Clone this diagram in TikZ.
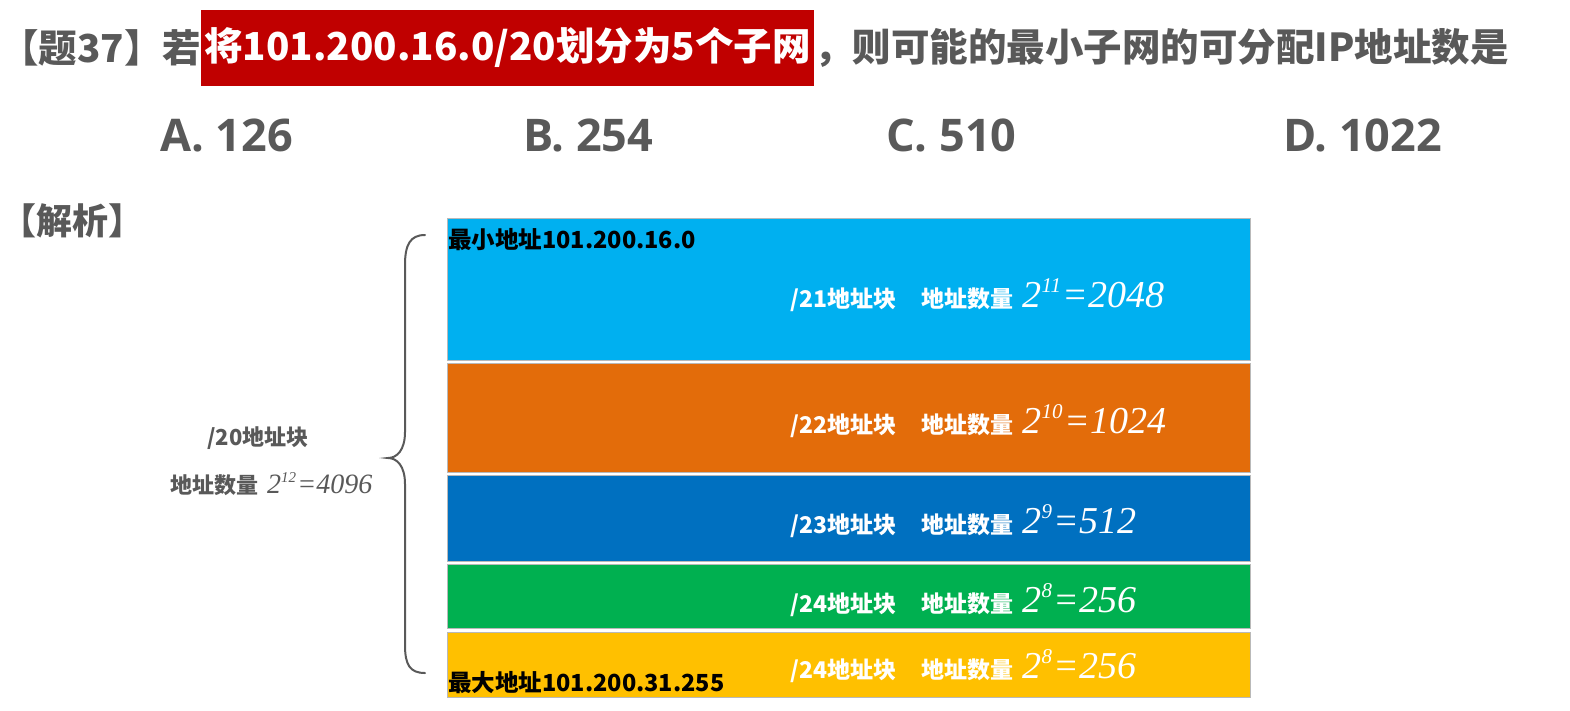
\documentclass[tikz,border=0pt]{standalone}
\usepackage{fontspec}
\setmainfont{Noto Sans CJK SC}
\newfontfamily\optfont{Open Sans}
\newfontfamily\tmsfont{Liberation Serif}
\definecolor{txtgray}{HTML}{595959}
\definecolor{hired}{HTML}{C00000}
\definecolor{cblue}{HTML}{00B0F0}
\definecolor{corange}{HTML}{E36C0A}
\definecolor{cdblue}{HTML}{0070C0}
\definecolor{cgreen}{HTML}{00B050}
\definecolor{cyellow}{HTML}{FFC000}
\newcommand\pwr[5]{{\tmsfont\mdseries\itshape\fontsize{#4pt}{#4pt}\selectfont #1\raisebox{0.4em}{\fontsize{#5pt}{#5pt}\selectfont #2}\hspace{0.05em}#3}}
\tikzset{
  title/.style={font=\fontsize{38.5pt}{40pt}\selectfont\bfseries, text=txtgray, inner sep=0pt},
  opt/.style={font=\optfont\fontsize{45pt}{47pt}\selectfont\bfseries, text=txtgray, inner sep=0pt, anchor=west},
  blk/.style={draw=gray!55, line width=0.8pt, anchor=north west, minimum width=803pt, inner sep=0pt},
  wlab/.style={font=\fontsize{23pt}{25pt}\selectfont\bfseries, text=white, inner sep=0pt, anchor=west},
  klab/.style={font=\fontsize{23.5pt}{25pt}\selectfont\bfseries, text=black, inner sep=0pt, anchor=west},
  glab/.style={font=\fontsize{22pt}{24pt}\selectfont\bfseries, text=txtgray, inner sep=0pt},
}
\begin{document}
\begin{tikzpicture}[x=1pt, y=-1pt]
\useasboundingbox[fill=white] (0,0) rectangle (1570,710);
% title
\node[title, anchor=west] (t1) at (0,48) {【题37】若};
\node[title, anchor=west, fill=hired, text=white, minimum height=76pt, inner xsep=3pt] (t2) at (t1.east) {将101.200.16.0/20划分为5个子网\hspace{6pt}};
\node[title, anchor=west] (t3) at (t2.east) {，则可能的最小子网的可分配IP地址数是};
% options
\node[opt] (oa) at (160,135) {A. 126};
\node[opt] (ob) at (523,135) {B. 254};
\node[opt] (oc) at (886,135) {C. 510};
\node[opt] (od) at (1283,135) {D. 1022};
% analysis
\node[font=\fontsize{36pt}{38pt}\selectfont\bfseries, text=txtgray, inner sep=0pt, anchor=west] (jx) at (0,221) {【解析】};
% blocks
\node[blk, fill=cblue, minimum height=142pt] (b1) at (447,218) {};
\node[blk, fill=corange, minimum height=109pt] (b2) at (447,362.5) {};
\node[blk, fill=cdblue, minimum height=86pt] (b3) at (447,474.5) {};
\node[blk, fill=cgreen, minimum height=64pt] (b4) at (447,564) {};
\node[blk, fill=cyellow, minimum height=65pt] (b5) at (447,631.5) {};
% block labels
\node[klab] (mn) at (448,240) {最小地址101.200.16.0};
\node[klab] (mx) at (448,683) {最大地址101.200.31.255};
\node[wlab] (l1) at (790,295) {/21地址块\hspace{1.1em}地址数量\hspace{0.4em}\pwr{2}{11}{=2048}{38}{21}};
\node[wlab] (l2) at (790,421) {/22地址块\hspace{1.1em}地址数量\hspace{0.4em}\pwr{2}{10}{=1024}{38}{21}};
\node[wlab] (l3) at (790,521) {/23地址块\hspace{1.1em}地址数量\hspace{0.4em}\pwr{2}{9}{=512}{38}{21}};
\node[wlab] (l4) at (790,600) {/24地址块\hspace{1.1em}地址数量\hspace{0.4em}\pwr{2}{8}{=256}{38}{21}};
\node[wlab] (l5) at (790,666) {/24地址块\hspace{1.1em}地址数量\hspace{0.4em}\pwr{2}{8}{=256}{38}{21}};
% left labels
\node[glab] (g1) at (258,438) {/20地址块};
\node[glab, anchor=west] (g2) at (170,484) {地址数量\hspace{0.4em}\pwr{2}{12}{=4096}{28}{15}};
% brace
\draw[txtgray, line width=2pt, line cap=round]
  (425,235) .. controls (410,235) and (405,245) .. (405,265) -- (405,432)
  .. controls (405,450) and (397,458) .. (388,458)
  .. controls (397,458) and (405,466) .. (405,484) -- (405,645)
  .. controls (405,665) and (410,673) .. (425,673);
\end{tikzpicture}
\end{document}
